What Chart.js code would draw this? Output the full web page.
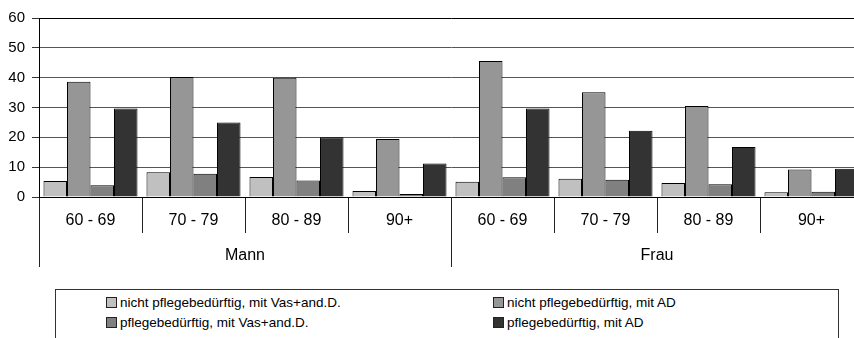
<!DOCTYPE html>
<html>
<head>
<meta charset="utf-8">
<script src="https://cdn.jsdelivr.net/npm/chart.js@4.4.1/dist/chart.umd.min.js"></script>
<style>
  html, body { margin: 0; padding: 0; background: #fff; overflow: hidden; width: 854px; height: 338px; }
  #wrap { position: relative; width: 863px; height: 267px; }
  #legend {
    position: absolute; left: 55px; top: 289px; width: 784px; height: 60px;
    border: 1px solid #333; box-sizing: border-box;
    font-family: "Liberation Sans", Arial, sans-serif; font-size: 13.5px; color: #000;
  }
  .item { position: absolute; white-space: nowrap; line-height: 16px; }
  .box { display: inline-block; width: 9px; height: 9px; border: 1px solid #222; margin-right: 3px; vertical-align: -1px; }
</style>
</head>
<body>
<div id="wrap"><canvas id="myChart"></canvas></div>
<div id="legend"></div>
<script>
// age classes (lower axis row) and sex groups (second row)
var ageLabels = ["60 - 69", "70 - 79", "80 - 89", "90+", "60 - 69", "70 - 79", "80 - 89", "90+"];
var groupLabels = ["Mann", "Frau"];

var seriesNames = [
    "nicht pflegebedürftig, mit Vas+and.D.",
    "nicht pflegebedürftig, mit AD",
    "pflegebedürftig, mit Vas+and.D.",
    "pflegebedürftig, mit AD"
];
var seriesColors = ["#c0c0c0", "#969696", "#808080", "#333333"];

// values (percent)
var nichtVas = [5.4, 8.3, 6.7, 2.0, 5.1, 6.1, 4.7, 1.6];
var nichtAD = [38.6, 40.2, 40.0, 19.4, 45.6, 35.1, 30.5, 9.2];
var pflegeVas = [3.9, 7.8, 5.5, 1.0, 6.6, 5.8, 4.3, 1.8];
var pflegeAD = [29.7, 25.0, 20.0, 11.2, 29.7, 22.2, 16.8, 9.5];

var yTicks = [0, 10, 20, 30, 40, 50, 60];

var allSeries = [nichtVas, nichtAD, pflegeVas, pflegeAD];

document.addEventListener("DOMContentLoaded", function () {
    var font = "'Liberation Sans', Arial, sans-serif";

    var datasets = allSeries.map(function (values, i) {
        return {
            label: seriesNames[i],
            data: values,
            backgroundColor: seriesColors[i],
            borderColor: "#000",
            borderWidth: 1,
            xAxisID: "x",
            categoryPercentage: 0.913,
            barPercentage: 1.0
        };
    });

    var ctx = document.getElementById("myChart").getContext("2d");
    var myChart = new Chart(ctx, {
        type: "bar",
        data: { labels: ageLabels, datasets: datasets },
        options: {
            responsive: true,
            maintainAspectRatio: false,
            animation: false,
            layout: { padding: { top: 18, right: 0, left: 0, bottom: 0 } },
            plugins: { legend: { display: false }, tooltip: { enabled: false } },
            scales: {
                x: {
                    type: "category",
                    position: "bottom",
                    weight: 1,
                    offset: true,
                    grid: { offset: true, drawOnChartArea: false, tickLength: 36, color: "#222", tickColor: "#222" },
                    border: { display: true, color: "#000", width: 1 },
                    ticks: { color: "#000", padding: -22, font: { family: font, size: 16 }, maxRotation: 0, autoSkip: false },
                    afterFit: function (scale) { scale.height = 36; }
                },
                x2: {
                    type: "category",
                    labels: groupLabels,
                    position: "bottom",
                    weight: 2,
                    offset: true,
                    grid: { offset: true, drawOnChartArea: false, tickLength: 34, color: "#222", tickColor: "#222" },
                    border: { display: false },
                    ticks: { color: "#000", padding: -21, font: { family: font, size: 16 }, maxRotation: 0 },
                    afterFit: function (scale) { scale.height = 34; }
                },
                y: {
                    min: 0,
                    max: 60,
                    afterBuildTicks: function (scale) {
                        scale.ticks = yTicks.map(function (v) { return { value: v }; });
                    },
                    grid: {
                        tickLength: 7,
                        color: function (c) { return c.tick && c.tick.value === 60 ? "#000" : "#555"; },
                        tickColor: "#333"
                    },
                    border: { display: true, color: "#000", width: 1 },
                    ticks: { color: "#000", padding: 7, font: { family: font, size: 15 } },
                    afterFit: function (scale) { scale.width = 39; }
                }
            }
        }
    });

    // html legend built from the datasets, two columns like the original
    var legend = document.getElementById("legend");
    var colX = [50, 437];
    var rowY = [5, 25];
    myChart.data.datasets.forEach(function (ds, i) {
        var item = document.createElement("div");
        item.className = "item";
        item.style.left = colX[i % 2] + "px";
        item.style.top = rowY[Math.floor(i / 2)] + "px";
        var box = document.createElement("span");
        box.className = "box";
        box.style.background = ds.backgroundColor;
        item.appendChild(box);
        item.appendChild(document.createTextNode(ds.label));
        legend.appendChild(item);
    });
});
</script>
</body>
</html>
